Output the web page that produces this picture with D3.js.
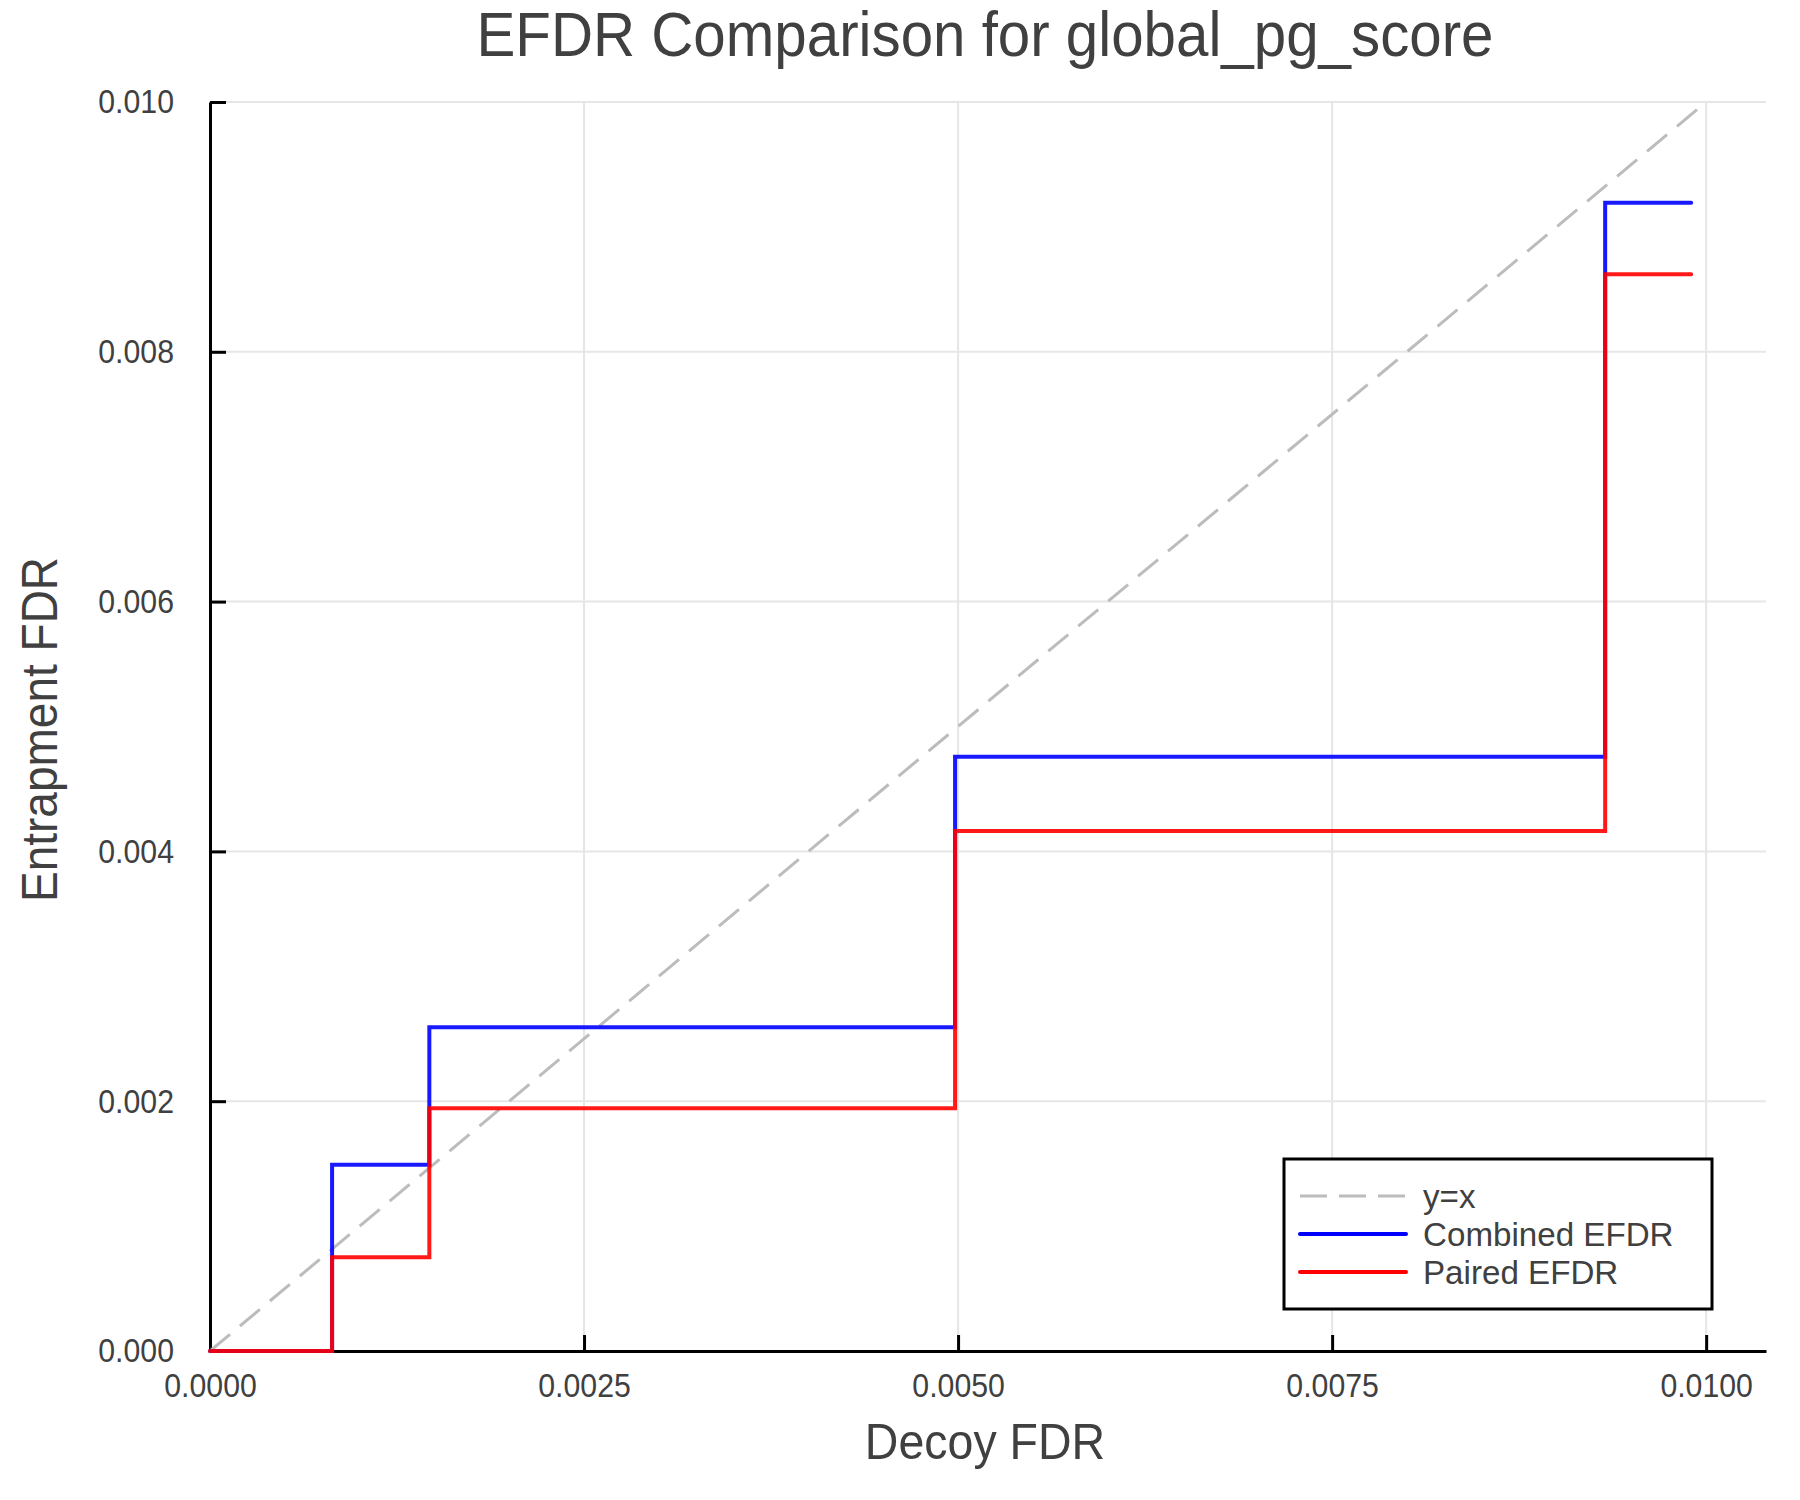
<!DOCTYPE html>
<html>
<head>
<meta charset="utf-8">
<script src="https://d3js.org/d3.v7.min.js"></script>
<style>
  body { margin: 0; background: #fff; }
  text { font-family: "Liberation Sans", Arial, Helvetica, sans-serif; }
</style>
</head>
<body>
<div id="myPlot"></div>
<script>
// step points (decoy FDR -> entrapment FDR)
const decoyFdr    = [0, 0.000816, 0.001466, 0.00498, 0.009325, 0.0099];
const combinedFdr = [0, 0.001492, 0.002592, 0.004758, 0.009194, 0.009194];
const pairedFdr   = [0, 0.000750, 0.001943, 0.004163, 0.008621, 0.008621];
const diagonal    = [0, 0.01];

const xTicks = [0, 0.0025, 0.005, 0.0075, 0.01];
const yTicks = [0, 0.002, 0.004, 0.006, 0.008, 0.010];

const seriesNames = ["y=x", "Combined EFDR", "Paired EFDR"];

const width = 1800, height = 1500;
const margin = { top: 102, right: 34, bottom: 149, left: 210 };
const textColor = "#404040";

// the reference font is a bit narrower than Liberation Sans
function squeeze(sel, k) {
    sel.each(function () {
        const len = this.getComputedTextLength();
        d3.select(this)
            .attr("textLength", len * k)
            .attr("lengthAdjust", "spacingAndGlyphs");
    });
}

const x = d3.scaleLinear()
    .domain([0, 0.0104])
    .range([margin.left, width - margin.right]);
const y = d3.scaleLinear()
    .domain([0, 0.01])
    .range([height - margin.bottom, margin.top]);

const svg = d3.select("#myPlot")
    .append("svg")
    .attr("width", width)
    .attr("height", height);

// grid
svg.append("g")
    .selectAll("line")
    .data(xTicks)
    .join("line")
    .attr("x1", d => x(d)).attr("x2", d => x(d))
    .attr("y1", y(0)).attr("y2", y(0.01))
    .attr("stroke", "#e6e6e6")
    .attr("stroke-width", 2);

svg.append("g")
    .selectAll("line")
    .data(yTicks)
    .join("line")
    .attr("x1", x(0)).attr("x2", x.range()[1])
    .attr("y1", d => y(d)).attr("y2", d => y(d))
    .attr("stroke", "#e6e6e6")
    .attr("stroke-width", 2);

// axes (ticks point inward)
const xAxis = g => g
    .attr("transform", `translate(0,${y(0)})`)
    .call(d3.axisBottom(x).tickValues(xTicks).tickFormat(d3.format(".4f"))
        .tickSizeInner(-16).tickSizeOuter(0).tickPadding(22))
    .call(g => g.select(".domain").attr("stroke-width", 3))
    .call(g => g.selectAll(".tick line").attr("stroke-width", 3))
    .call(g => g.selectAll("text").attr("font-size", 34).attr("fill", textColor)
        .attr("font-family", null));

const yAxis = g => g
    .attr("transform", `translate(${x(0)},0)`)
    .call(d3.axisLeft(y).tickValues(yTicks).tickFormat(d3.format(".3f"))
        .tickSizeInner(-16).tickSizeOuter(0).tickPadding(36))
    .call(g => g.select(".domain").attr("stroke-width", 3))
    .call(g => g.selectAll(".tick line").attr("stroke-width", 3))
    .call(g => g.selectAll("text").attr("font-size", 34).attr("fill", textColor)
        .attr("font-family", null));

const gx = svg.append("g").call(xAxis);
const gy = svg.append("g").call(yAxis);
squeeze(gx.selectAll("text"), 0.89);
squeeze(gy.selectAll("text"), 0.89);

// y = x reference
svg.append("path")
    .datum(diagonal)
    .attr("fill", "none")
    .attr("stroke", "#bcbcbc")
    .attr("stroke-width", 3)
    .attr("stroke-dasharray", "26 13")
    .attr("d", d3.line().x(d => x(d)).y(d => y(d)));

const step = d3.line()
    .x(d => x(d[0]))
    .y(d => y(d[1]))
    .curve(d3.curveStepAfter);

svg.append("path")
    .datum(d3.zip(decoyFdr, combinedFdr))
    .attr("fill", "none")
    .attr("stroke", "#0000ff")
    .attr("stroke-opacity", 0.9)
    .attr("stroke-width", 4)
    .attr("stroke-linecap", "round")
    .attr("d", step);

svg.append("path")
    .datum(d3.zip(decoyFdr, pairedFdr))
    .attr("fill", "none")
    .attr("stroke", "#ff0000")
    .attr("stroke-opacity", 0.9)
    .attr("stroke-width", 4)
    .attr("stroke-linecap", "round")
    .attr("d", step);

// titles
const plotCenter = (x.range()[0] + x.range()[1]) / 2;
const title = svg.append("text")
    .attr("x", plotCenter - 3).attr("y", 56)
    .attr("text-anchor", "middle")
    .attr("font-size", 63)
    .attr("fill", textColor)
    .text("EFDR Comparison for global_pg_score");
squeeze(title, 0.925);

const xLabel = svg.append("text")
    .attr("x", plotCenter - 3).attr("y", 1459)
    .attr("text-anchor", "middle")
    .attr("font-size", 50)
    .attr("fill", textColor)
    .text("Decoy FDR");
squeeze(xLabel, 0.93);

const yLabel = svg.append("text")
    .attr("transform", `translate(57,${(y(0) + y(0.01)) / 2 + 3}) rotate(-90)`)
    .attr("text-anchor", "middle")
    .attr("font-size", 50)
    .attr("fill", textColor)
    .text("Entrapment FDR");
squeeze(yLabel, 0.92);

// legend
const legend = svg.append("g").attr("transform", "translate(1284,1159)");
legend.append("rect")
    .attr("width", 428).attr("height", 150)
    .attr("fill", "#fff")
    .attr("stroke", "#000")
    .attr("stroke-width", 3);

const legendStyles = [
    { color: "#bcbcbc", width: 3, dash: "27 12" },
    { color: "#0000ff", width: 4, dash: null },
    { color: "#ff0000", width: 4, dash: null }
];

const rows = legend.selectAll("g.row")
    .data(seriesNames)
    .join("g")
    .attr("class", "row")
    .attr("transform", (d, i) => `translate(0,${37 + i * 38})`);

rows.append("line")
    .attr("x1", 16).attr("x2", 122)
    .attr("stroke", (d, i) => legendStyles[i].color)
    .attr("stroke-width", (d, i) => legendStyles[i].width)
    .attr("stroke-dasharray", (d, i) => legendStyles[i].dash)
    .attr("stroke-linecap", (d, i) => legendStyles[i].dash ? "butt" : "round");

const legendText = rows.append("text")
    .attr("x", 139).attr("y", 12)
    .attr("font-size", 34)
    .attr("fill", textColor)
    .text(d => d);
squeeze(legendText, 0.975);
</script>
</body>
</html>
